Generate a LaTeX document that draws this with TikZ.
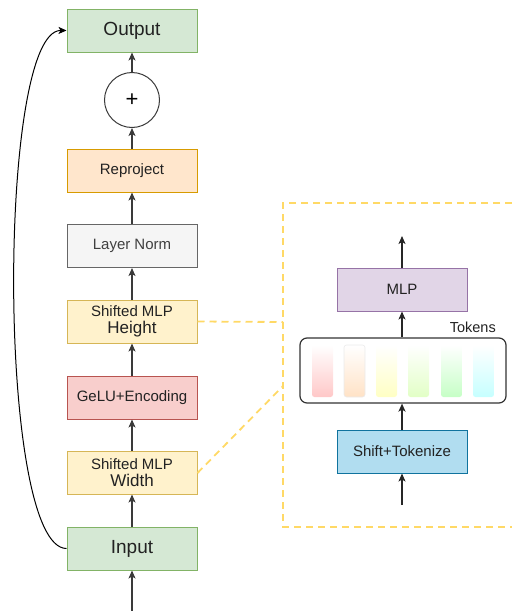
\documentclass[tikz,border=0pt]{standalone}
\usepackage{fontspec}
\setmainfont{Liberation Sans}
\usetikzlibrary{arrows.meta}
\definecolor{gfill}{HTML}{D5E8D4}\definecolor{gline}{HTML}{82B366}
\definecolor{ofill}{HTML}{FFE6CC}\definecolor{oline}{HTML}{D79B00}
\definecolor{nfill}{HTML}{F5F5F5}\definecolor{nline}{HTML}{666666}
\definecolor{yfill}{HTML}{FFF2CC}\definecolor{yline}{HTML}{D6B656}
\definecolor{rfill}{HTML}{F8CECC}\definecolor{rline}{HTML}{B85450}
\definecolor{pfill}{HTML}{E1D5E7}\definecolor{pline}{HTML}{9673A6}
\definecolor{bfill}{HTML}{B1DDF0}\definecolor{bline}{HTML}{10739E}
\definecolor{dash}{HTML}{FFD966}
\definecolor{txt}{HTML}{222222}
\definecolor{arr}{HTML}{3A3A3A}
\newcommand{\fs}[1]{\fontsize{#1}{#1}\selectfont}
\tikzset{
  box/.style={draw, line width=1pt, minimum width=130pt, minimum height=43pt, inner sep=0pt, text=txt, align=center},
  flow/.style={draw=arr, line width=1.4pt, -{Stealth[length=8pt,width=7pt,inset=2pt]}},
  dashline/.style={draw=dash, line width=1.8pt, dash pattern=on 7pt off 5pt},
}
\begin{document}
\begin{tikzpicture}[x=1pt,y=-1pt]
\useasboundingbox (0,0) rectangle (512,611);
% left column
\node[box, fill=gfill, draw=gline, font=\fs{19}] (out) at (132,30.5) {Output};
\node[draw=arr, circle, line width=1pt, minimum size=55pt, inner sep=0pt, font=\fs{22}] (plus) at (132,100) {+};
\node[box, fill=ofill, draw=oline, font=\fs{15}] (rep) at (132,170.5) {Reproject};
\node[box, fill=nfill, draw=nline, font=\fs{15}, text=black!75] (ln) at (132,246) {Layer Norm};
\node[box, fill=yfill, draw=yline] (smh) at (132,321.5) {{\fs{15}Shifted MLP}\\[4pt]{\fs{17}Height}};
\node[box, fill=rfill, draw=rline, font=\fs{15}] (gelu) at (132,397.5) {GeLU+Encoding};
\node[box, fill=yfill, draw=yline] (smw) at (132,472.5) {{\fs{15}Shifted MLP}\\[4pt]{\fs{17}Width}};
\node[box, fill=gfill, draw=gline, font=\fs{19}] (inp) at (132,548.5) {Input};
\coordinate (bot) at (132,611);

\draw[flow] (bot) -- (inp);
\draw[flow] (inp) -- (smw);
\draw[flow] (smw) -- (gelu);
\draw[flow] (gelu) -- (smh);
\draw[flow] (smh) -- (ln);
\draw[flow] (ln) -- (rep);
\draw[flow] (rep) -- (plus);
\draw[flow] (plus) -- (out);
\draw[black, line width=1pt, -{Stealth[length=8pt,width=7pt,inset=2pt]}] (inp.west) .. controls (-3,548) and (-3,30) .. (out.west);

% zoom frame
\coordinate (fa) at (283,322);
\coordinate (fb) at (283,386);
\draw[dashline] (512,203) -- (283,203) -- (283,527) -- (512,527);
\draw[dashline] (smh.east) -- (fa);
\draw[dashline] ([yshift=-0.5pt]smw.east) -- (fb);

% right panel
\node[box, fill=pfill, draw=pline, font=\fs{15}] (mlp) at (402,289.5) {MLP};
\node[draw=black!80, line width=1.2pt, rounded corners=7pt, minimum width=206pt, minimum height=65pt, inner sep=0pt] (tok) at (403,370.5) {};
\node[anchor=east, font=\fs{14.5}, text=txt, inner sep=0pt] (toklab) at (496,327) {Tokens};
\node[box, fill=bfill, draw=bline, font=\fs{15}] (shift) at (402,451.5) {Shift+Tokenize};
\coordinate (mtop) at (402,236);
\coordinate (sbot) at (402,505);
\draw[flow, draw=black!85] (mlp) -- (mtop);
\draw[flow, draw=black!85] (tok.north -| mlp) -- (mlp);
\draw[flow, draw=black!85] (shift) -- (tok.south -| shift);
\draw[flow, draw=black!85] (sbot) -- (shift);

% token bars
\foreach \x/\c in {312/FFC8C8, 344/FFE2C6, 376/FFFFC4, 408/E2FFC6, 441/C6FFC6, 473/C6FFFF}{
  \definecolor{bc}{HTML}{\c}
  \shade[top color=white, bottom color=bc, rounded corners=2.5pt] (\x,345) rectangle ++(21,52);
}
\draw[black!8, line width=0.6pt, rounded corners=2.5pt] (344,345) rectangle ++(21,52);
\end{tikzpicture}
\end{document}
